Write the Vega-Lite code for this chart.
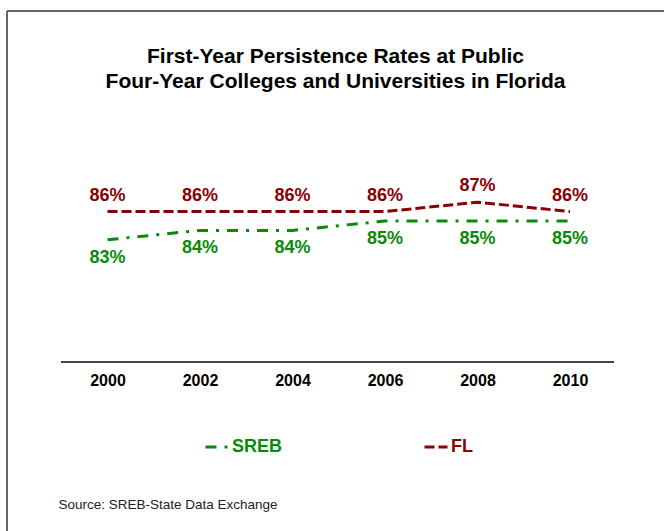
{
  "$schema": "https://vega.github.io/schema/vega-lite/v6.json",
  "width": 657,
  "height": 520,
  "autosize": "none",
  "padding": {"left": 7, "top": 11, "right": 0, "bottom": 0},
  "background": "white",
  "config": {
    "view": {"stroke": null},
    "font": "Liberation Sans",
    "legend": {
      "orient": "none",
      "legendX": 197,
      "legendY": 423,
      "direction": "horizontal",
      "symbolType": "stroke",
      "symbolSize": 529,
      "symbolStrokeWidth": 3,
      "labelFont": "Liberation Sans",
      "labelFontSize": 18,
      "labelFontWeight": "bold",
      "labelOffset": 2,
      "columnPadding": 135
    }
  },
  "title": {
    "text": ["First-Year Persistence Rates at Public", "Four-Year Colleges and Universities in Florida"],
    "font": "Liberation Sans",
    "fontSize": 21,
    "fontWeight": "bold",
    "color": "black",
    "lineHeight": 25,
    "anchor": "middle",
    "frame": "group",
    "offset": -82
  },
  "resolve": {"axis": {"x": "independent", "y": "independent"}},
  "data": {
    "values": [
      {"year": 2000, "series": "SREB", "pct": 83},
      {"year": 2002, "series": "SREB", "pct": 84},
      {"year": 2004, "series": "SREB", "pct": 84},
      {"year": 2006, "series": "SREB", "pct": 85},
      {"year": 2008, "series": "SREB", "pct": 85},
      {"year": 2010, "series": "SREB", "pct": 85},
      {"year": 2000, "series": "FL", "pct": 86},
      {"year": 2002, "series": "FL", "pct": 86},
      {"year": 2004, "series": "FL", "pct": 86},
      {"year": 2006, "series": "FL", "pct": 86},
      {"year": 2008, "series": "FL", "pct": 87},
      {"year": 2010, "series": "FL", "pct": 86}
    ]
  },
  "layer": [
    {
      "mark": {"type": "rule", "color": "#666666", "strokeWidth": 2},
      "encoding": {
        "x": {"datum": 1997.827, "type": "quantitative", "axis": null}
      }
    },
    {
      "mark": {"type": "rule", "color": "#666666", "strokeWidth": 2},
      "encoding": {
        "y": {"datum": 107.34, "type": "quantitative", "axis": null}
      }
    },
    {
      "mark": {"type": "rule", "color": "#444444", "strokeWidth": 1},
      "encoding": {
        "x": {"datum": 1999, "type": "quantitative", "axis": null},
        "x2": {"datum": 2010.95},
        "y": {"datum": 70, "type": "quantitative", "axis": null}
      }
    },
    {
      "mark": {"type": "line", "strokeWidth": 3},
      "encoding": {
        "x": {
          "field": "year",
          "type": "quantitative",
          "scale": {"domain": [1997.827, 2012.032], "nice": false, "zero": false},
          "axis": {
            "values": [2000, 2002, 2004, 2006, 2008, 2010],
            "format": "d",
            "domain": false,
            "ticks": false,
            "grid": false,
            "offset": -169,
            "labelFont": "Liberation Sans",
            "labelFontSize": 16,
            "labelFontWeight": "bold",
            "labelColor": "black",
            "labelPadding": 10,
            "labelFlush": false,
            "labelOverlap": false,
            "title": "Source: SREB-State Data Exchange",
            "titleX": 51,
            "titleY": 146,
            "titleAlign": "left",
            "titleAnchor": "start",
            "titleBaseline": "alphabetic",
            "titleFont": "Liberation Sans",
            "titleFontSize": 13.5,
            "titleFontWeight": "normal",
            "titleColor": "#222222"
          }
        },
        "y": {
          "field": "pct",
          "type": "quantitative",
          "scale": {"domain": [52.02, 107.34], "nice": false, "zero": false},
          "axis": null
        },
        "color": {
          "field": "series",
          "type": "nominal",
          "scale": {"domain": ["SREB", "FL"], "range": ["#0A8A0A", "#8B0000"]},
          "title": null,
          "legend": {"encode": {"labels": {"update": {"fill": {"signal": "datum.value === 'FL' ? '#8B0000' : '#0A8A0A'"}}}}}
        },
        "strokeDash": {
          "field": "series",
          "type": "nominal",
          "scale": {"domain": ["SREB", "FL"], "range": [[11, 8, 3, 8], [10, 4]]},
          "title": null,
          "legend": {"encode": {"labels": {"update": {"fill": {"signal": "datum.value === 'FL' ? '#8B0000' : '#0A8A0A'"}}}}}
        }
      }
    },
    {
      "transform": [{"filter": "datum.series === 'FL'"}, {"calculate": "datum.pct + '%'", "as": "label"}],
      "mark": {"type": "text", "font": "Liberation Sans", "fontSize": 18, "fontWeight": "bold", "color": "#8B0000", "baseline": "middle", "dy": -16},
      "encoding": {
        "x": {"field": "year", "type": "quantitative", "axis": null},
        "y": {"field": "pct", "type": "quantitative", "axis": null},
        "text": {"field": "label", "type": "nominal"}
      }
    },
    {
      "transform": [{"filter": "datum.series === 'SREB'"}, {"calculate": "datum.pct + '%'", "as": "label"}],
      "mark": {"type": "text", "font": "Liberation Sans", "fontSize": 18, "fontWeight": "bold", "color": "#0A8A0A", "baseline": "middle", "dy": 18},
      "encoding": {
        "x": {"field": "year", "type": "quantitative", "axis": null},
        "y": {"field": "pct", "type": "quantitative", "axis": null},
        "text": {"field": "label", "type": "nominal"}
      }
    }
  ]
}
